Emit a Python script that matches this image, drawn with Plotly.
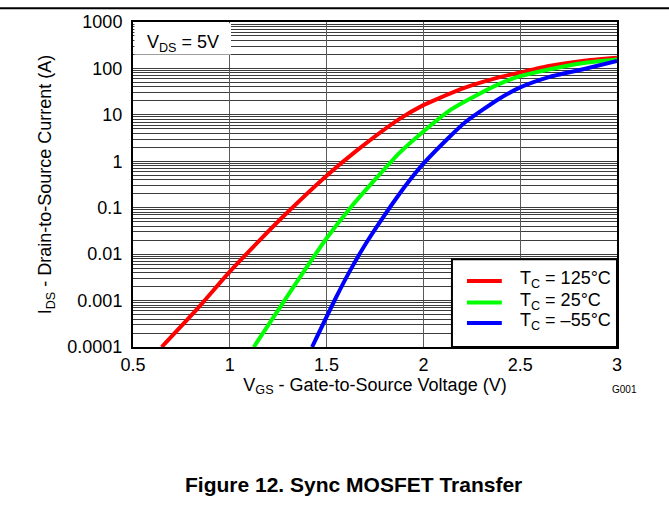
import plotly.graph_objects as go

# ---- data ----
vgs_125 = [0.648, 0.827, 1.0, 1.155, 1.273, 1.5, 1.652, 1.875, 2.0, 2.07, 2.219, 2.39, 2.5, 2.648, 2.82, 3.0]
ids_125 = [0.0001, 0.00063, 0.0042, 0.02, 0.063, 0.49, 1.66, 8.1, 16.2, 21.9, 39, 64, 82, 113, 145, 170]

vgs_25 = [1.124, 1.273, 1.394, 1.5, 1.617, 1.737, 1.875, 2.0, 2.133, 2.219, 2.39, 2.5, 2.648, 2.82, 3.0]
ids_25 = [0.0001, 0.00087, 0.005, 0.022, 0.093, 0.35, 1.5, 4.4, 12.2, 19.8, 46, 68, 95, 129, 155]

vgs_m55 = [1.425, 1.548, 1.617, 1.703, 1.789, 1.875, 1.927, 2.0, 2.133, 2.219, 2.39, 2.5, 2.648, 2.82, 3.0]
ids_m55 = [0.0001, 0.00115, 0.0041, 0.017, 0.06, 0.195, 0.38, 0.89, 3.3, 7.1, 22, 39, 65, 95, 145]

series_names = ["T<sub>C</sub> = 125°C", "T<sub>C</sub> = 25°C", "T<sub>C</sub> = –55°C"]
series_colors = ["#FF0000", "#00FF00", "#0000FF"]

x_ticks = [0.5, 1, 1.5, 2, 2.5, 3]
x_tick_text = ["0.5", "1", "1.5", "2", "2.5", "3"]
y_ticks = [0.0001, 0.001, 0.01, 0.1, 1, 10, 100, 1000]
y_tick_text = ["0.0001", "0.001", "0.01", "0.1", "1", "10", "100", "1000"]
minor_mult = [2, 3, 4, 5, 6, 7, 8, 9]
y_minor = [d * m for d in y_ticks[:-1] for m in minor_mult]

FONT = "Arial, Liberation Sans, sans-serif"
FS = 18

fig = go.Figure()
for xs, ys, name, col in zip([vgs_125, vgs_25, vgs_m55], [ids_125, ids_25, ids_m55],
                             series_names, series_colors):
    fig.add_trace(go.Scatter(x=xs, y=ys, mode="lines", name=name, showlegend=False,
                             line=dict(color=col, width=4, shape="spline", smoothing=0.6)))

grid_col = "#3c3c3c"
fig.update_xaxes(range=[0.5, 3], tickvals=x_ticks, ticktext=x_tick_text,
                 showgrid=True, gridcolor="#5a5a5a", gridwidth=1,
                 showline=True, linecolor="black", linewidth=2, mirror=True,
                 ticks="", ticklabelstandoff=0, zeroline=False,
                 tickfont=dict(family=FONT, size=FS, color="black"),
                 title=dict(text="V<sub>GS</sub> - Gate-to-Source Voltage (V)",
                            font=dict(family=FONT, size=FS, color="black"), standoff=2))
fig.update_yaxes(type="log", range=[-4, 3], tickvals=y_ticks, ticktext=y_tick_text,
                 showgrid=True, gridcolor=grid_col, gridwidth=1,
                 minor=dict(showgrid=True, gridcolor=grid_col, gridwidth=1,
                            tickmode="array", tickvals=y_minor, ticks=""),
                 showline=True, linecolor="black", linewidth=2, mirror=True,
                 ticks="", ticklabelstandoff=5, zeroline=False,
                 tickfont=dict(family=FONT, size=FS, color="black"),
                 title=dict(text="I<sub>DS</sub> - Drain-to-Source Current (A)",
                            font=dict(family=FONT, size=FS, color="black"), standoff=11))

# white box behind the V_DS label
fig.add_shape(type="rect", xref="paper", yref="paper", x0=0.003, x1=0.2025, y0=0.9, y1=0.996,
              fillcolor="white", line=dict(width=0), layer="above")
fig.add_annotation(xref="paper", yref="paper", x=0.104, y=0.935, showarrow=False,
                   xanchor="center", yanchor="middle",
                   text="V<sub>DS</sub> = 5V", font=dict(family=FONT, size=FS, color="black"))

# legend box (drawn by hand to match the reference's compact layout)
fig.add_shape(type="rect", xref="paper", yref="paper", x0=0.659, x1=1.0, y0=0.0, y1=0.2697,
              fillcolor="white", line=dict(color="black", width=2), layer="above")
legend_y = [0.203, 0.137, 0.0736]
for name, col, ly in zip(series_names, series_colors, legend_y):
    fig.add_shape(type="line", xref="paper", yref="paper", x0=0.690, x1=0.762, y0=ly, y1=ly,
                  line=dict(color=col, width=4), layer="above")
    fig.add_annotation(xref="paper", yref="paper", x=0.7955, y=ly + 0.004, showarrow=False,
                       xanchor="left", yanchor="middle", text=name,
                       font=dict(family=FONT, size=FS, color="black"))

fig.add_annotation(xref="paper", yref="paper", x=1.0165, y=-0.13, showarrow=False,
                   xanchor="center", yanchor="middle",
                   text="G001", font=dict(family=FONT, size=10, color="black"))
fig.add_annotation(xref="paper", yref="paper", x=0.4566, y=-0.424, showarrow=False,
                   xanchor="center", yanchor="middle",
                   text="<b>Figure 12. Sync MOSFET Transfer</b>",
                   font=dict(family=FONT, size=21, color="black"))
# top rule line
fig.add_shape(type="line", xref="paper", yref="paper", x0=-0.3, x1=1.2,
              y0=1.0 + 14/330, y1=1.0 + 14/330, line=dict(color="black", width=2))

fig.update_layout(
    width=669, height=508,
    margin=dict(l=133, r=52, t=17, b=161),
    paper_bgcolor="white", plot_bgcolor="white",
    showlegend=False,
)

fig.write_html("out.html", config={"displayModeBar": False},
               post_script="document.body.style.margin='0';")
